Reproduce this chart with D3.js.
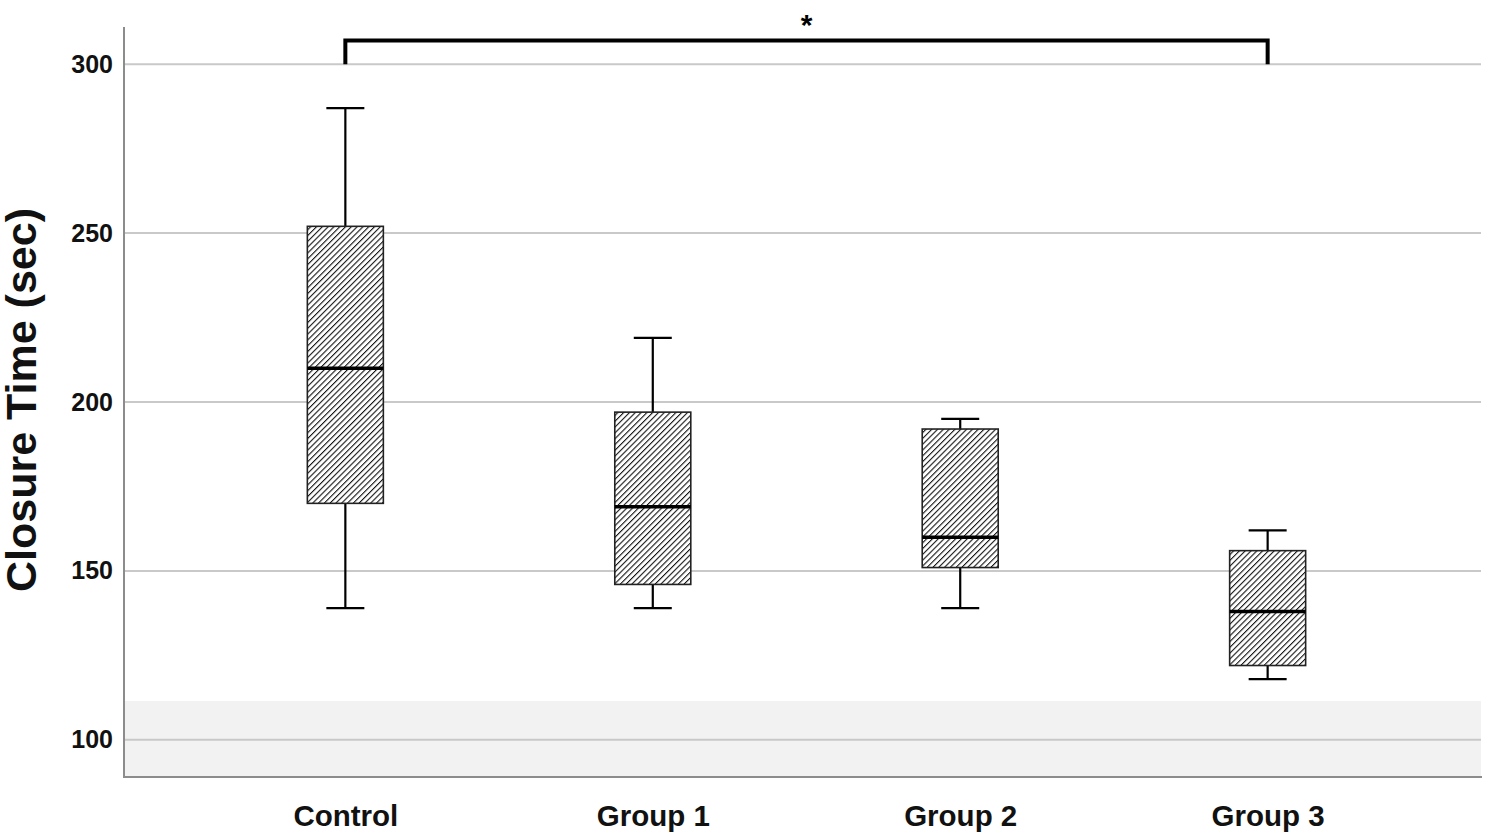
<!DOCTYPE html>
<html lang="en">
<head>
<meta charset="UTF-8">
<title>Closure time by group</title>
<style>
body { margin: 0; background: #fff; }
svg { display: block; font-family: "Liberation Sans", Arial, sans-serif; }
.axis .domain { display: none; }
.axis .tick line { display: none; }
</style>
</head>
<body>
<svg width="1489" height="836"></svg>
<script src="https://d3js.org/d3.v7.min.js"></script>
<script>

var groups = ["Control", "Group 1", "Group 2", "Group 3"];
var whiskerLow = [139, 139, 139, 118];
var q1 = [170, 146, 151, 122];
var median = [210, 169, 160, 138];
var q3 = [252, 197, 192, 156];
var whiskerHigh = [287, 219, 195, 162];
var yTicks = [100, 150, 200, 250, 300];
var sigPair = ["Control", "Group 3"], sigLevel = 307, sigLabel = "*";

var svg = d3.select("svg"),
    plotLeft = 124, plotRight = 1481, plotTop = 27, plotBottom = 777;

var x = d3.scalePoint().domain(groups).range([plotLeft, 1489]).padding(0.72);
var y = d3.scaleLinear().domain([89, 311]).range([plotBottom, plotTop]);
var boxW = 76;

// hatch pattern
var hp = 4.1;
var pat = svg.append("defs").append("pattern")
    .attr("id", "hatch")
    .attr("patternUnits", "userSpaceOnUse")
    .attr("width", hp).attr("height", hp)
    .attr("patternTransform", "rotate(45)");
pat.append("rect").attr("width", hp).attr("height", hp).attr("fill", "#fff");
pat.append("line")
    .attr("x1", 0).attr("y1", 0).attr("x2", 0).attr("y2", hp)
    .attr("stroke", "#141414").attr("stroke-width", 2.2);

// shaded band at bottom
svg.append("rect")
    .attr("x", plotLeft).attr("y", y(111.5))
    .attr("width", plotRight - plotLeft).attr("height", plotBottom - y(111.5))
    .attr("fill", "#f3f2f3");

// grid lines
svg.append("g").selectAll("line").data(yTicks).enter().append("line")
    .attr("x1", plotLeft).attr("x2", plotRight)
    .attr("y1", function(d) { return y(d); }).attr("y2", function(d) { return y(d); })
    .attr("stroke", "#c9c9c9").attr("stroke-width", 2);

// axis lines
svg.append("line").attr("x1", plotLeft).attr("x2", plotLeft).attr("y1", plotTop).attr("y2", plotBottom + 1)
    .attr("stroke", "#8c8c8c").attr("stroke-width", 2);
svg.append("line").attr("x1", plotLeft).attr("x2", plotRight + 1).attr("y1", plotBottom).attr("y2", plotBottom)
    .attr("stroke", "#8c8c8c").attr("stroke-width", 2);

// y axis labels
svg.append("g")
    .attr("class", "axis")
    .attr("transform", "translate(" + (plotLeft - 1) + ",0)")
    .call(d3.axisLeft(y).tickValues(yTicks).tickSize(0).tickPadding(10))
  .selectAll("text")
    .attr("font-size", 25).attr("font-weight", "bold").attr("fill", "#111")
    .attr("font-family", "Liberation Sans, Arial, sans-serif");

// x axis labels
svg.append("g")
    .attr("class", "axis")
    .attr("transform", "translate(0," + plotBottom + ")")
    .call(d3.axisBottom(x).tickSize(0).tickPadding(28))
  .selectAll("text")
    .attr("font-size", 29.5).attr("font-weight", "bold").attr("fill", "#111")
    .attr("font-family", "Liberation Sans, Arial, sans-serif");

// axis title
svg.append("text")
    .attr("transform", "translate(36," + ((plotTop + plotBottom) / 2 - 2) + ") rotate(-90)")
    .attr("text-anchor", "middle")
    .attr("font-size", 43).attr("font-weight", "bold").attr("fill", "#111")
    .text("Closure Time (sec)");

// boxes
var box = svg.append("g").selectAll("g").data(groups).enter().append("g")
    .attr("transform", function(d) { return "translate(" + x(d) + ",0)"; });

box.append("line")
    .attr("x1", 0).attr("x2", 0)
    .attr("y1", function(d, i) { return y(whiskerHigh[i]); })
    .attr("y2", function(d, i) { return y(q3[i]); })
    .attr("stroke", "#000").attr("stroke-width", 2.2);
box.append("line")
    .attr("x1", 0).attr("x2", 0)
    .attr("y1", function(d, i) { return y(q1[i]); })
    .attr("y2", function(d, i) { return y(whiskerLow[i]); })
    .attr("stroke", "#000").attr("stroke-width", 2.2);
box.append("line")
    .attr("x1", -boxW / 4).attr("x2", boxW / 4)
    .attr("y1", function(d, i) { return y(whiskerHigh[i]); })
    .attr("y2", function(d, i) { return y(whiskerHigh[i]); })
    .attr("stroke", "#000").attr("stroke-width", 2.2);
box.append("line")
    .attr("x1", -boxW / 4).attr("x2", boxW / 4)
    .attr("y1", function(d, i) { return y(whiskerLow[i]); })
    .attr("y2", function(d, i) { return y(whiskerLow[i]); })
    .attr("stroke", "#000").attr("stroke-width", 2.2);
box.append("rect")
    .attr("x", -boxW / 2).attr("width", boxW)
    .attr("y", function(d, i) { return y(q3[i]); })
    .attr("height", function(d, i) { return y(q1[i]) - y(q3[i]); })
    .attr("fill", "url(#hatch)")
    .attr("stroke", "#222").attr("stroke-width", 1.6);
box.append("line")
    .attr("x1", -boxW / 2).attr("x2", boxW / 2)
    .attr("y1", function(d, i) { return y(median[i]); })
    .attr("y2", function(d, i) { return y(median[i]); })
    .attr("stroke", "#000").attr("stroke-width", 3.5);

// significance bracket
var xa = x(sigPair[0]), xb = x(sigPair[1]);
svg.append("path")
    .attr("d", "M" + xa + "," + y(300) + "V" + y(sigLevel) + "H" + xb + "V" + y(300))
    .attr("fill", "none").attr("stroke", "#000").attr("stroke-width", 4);
svg.append("text")
    .attr("x", (xa + xb) / 2).attr("y", y(sigLevel) - 6)
    .attr("text-anchor", "middle")
    .attr("font-size", 30).attr("font-weight", "bold")
    .text(sigLabel);

</script>
</body>
</html>
